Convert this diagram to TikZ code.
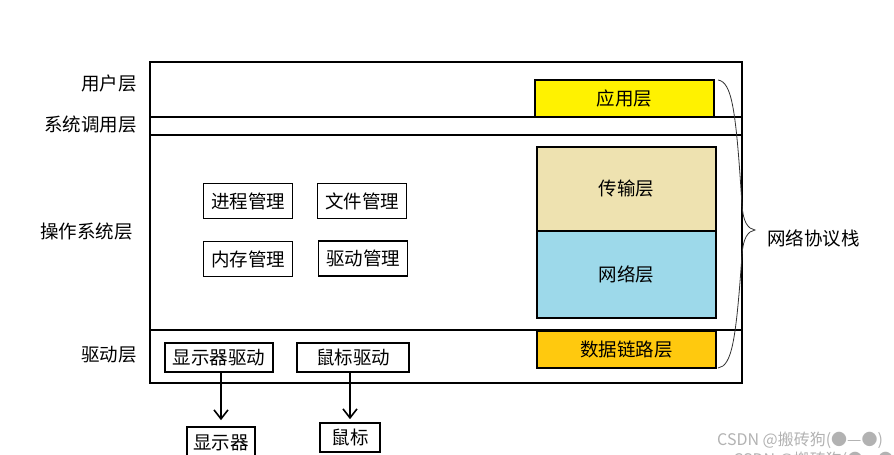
\documentclass[tikz,border=0pt]{standalone}
\usepackage{fontspec}
\setmainfont{Noto Sans CJK SC}
\usetikzlibrary{arrows.meta}
\definecolor{appY}{HTML}{FFF200}
\definecolor{transB}{HTML}{EEE2B0}
\definecolor{netB}{HTML}{9DD9EA}
\definecolor{linkY}{HTML}{FFC90E}
\tikzset{
  box/.style={draw=black, line width=1.6pt, inner sep=0pt, font=\fontsize{18.5}{19}\selectfont},
  lbl/.style={anchor=east, inner sep=0pt, font=\fontsize{18.5}{19}\selectfont},
  arr/.style={-{Straight Barb[length=9pt,width=14pt,line width=1.6pt]}, line width=1.6pt},
  wm/.style={anchor=west, inner sep=0pt, text=black!30, font=\fontsize{16}{17}\selectfont}
}
\begin{document}
\begin{tikzpicture}[x=1pt,y=-1pt]
\useasboundingbox (0,0) rectangle (894,455);
\clip (0,0) rectangle (894,455);
% outer frame and layer lines
\draw[line width=1.6pt] (150,62) rectangle (742,383);
\draw[line width=1.6pt] (150,117) -- (742,117);
\draw[line width=1.6pt] (150,135) -- (742,135);
\draw[line width=1.6pt] (150,330) -- (742,330);
% left labels
\node[lbl] (lu) at (137,84) {用户层};
\node[lbl] (ls) at (137,125) {系统调用层};
\node[lbl] (lo) at (133,232) {操作系统层};
\node[lbl] (ld) at (137,355) {驱动层};
% protocol stack
\node[box, fill=appY, minimum width=179pt, minimum height=37pt] (app) at (624.5,98.5) {应用层};
\node[box, fill=transB, minimum width=179pt, minimum height=84pt] (trans) at (626.5,189) {传输层};
\node[box, fill=netB, minimum width=179pt, minimum height=87pt] (net) at (626.5,274.5) {网络层};
\node[box, fill=linkY, minimum width=179pt, minimum height=37pt] (link) at (626.5,349.5) {数据链路层};
% management boxes
\node[box, minimum width=89pt, minimum height=35pt] (proc) at (248,201) {进程管理};
\node[box, minimum width=89pt, minimum height=35pt] (file) at (362,201) {文件管理};
\node[box, minimum width=89pt, minimum height=35pt] (mem) at (248,259) {内存管理};
\node[box, minimum width=89pt, minimum height=35pt] (drvm) at (363,258.5) {驱动管理};
% drivers
\node[box, minimum width=108pt, minimum height=29pt] (dispdrv) at (219,357.5) {显示器驱动};
\node[box, minimum width=112pt, minimum height=29pt] (mousedrv) at (353,357.5) {鼠标驱动};
\node[box, minimum width=68pt, minimum height=32pt] (disp) at (221,443) {显示器};
\node[box, minimum width=60pt, minimum height=29pt] (mouse) at (350,437.5) {鼠标};
\draw[arr, shorten >=6pt] (dispdrv.south -| disp.north) -- (disp.north);
\draw[arr, shorten >=3pt] (mousedrv.south -| mouse.north) -- (mouse.north);
% brace
\coordinate (bt) at (718,80);
\coordinate (bb) at (718,368);
\coordinate (tip) at (755,230);
\draw[line width=0.8pt, black!80] (bt) .. controls (732,82) and (736,110) .. (742,205)
  .. controls (743,222) and (748,229) .. (tip)
  .. controls (748,231) and (743,238) .. (742,255)
  .. controls (736,340) and (732,366) .. (bb);
\node[anchor=west, inner sep=0pt, font=\fontsize{18.5}{19}\selectfont] (stack) at (767,238) {网络协议栈};
% watermark
\node[wm] (wm1) at (717,440) {CSDN @搬砖狗(●—●)};
\node[wm] (wm2) at (733,460) {CSDN @搬砖狗(●—●)};
\end{tikzpicture}
\end{document}
